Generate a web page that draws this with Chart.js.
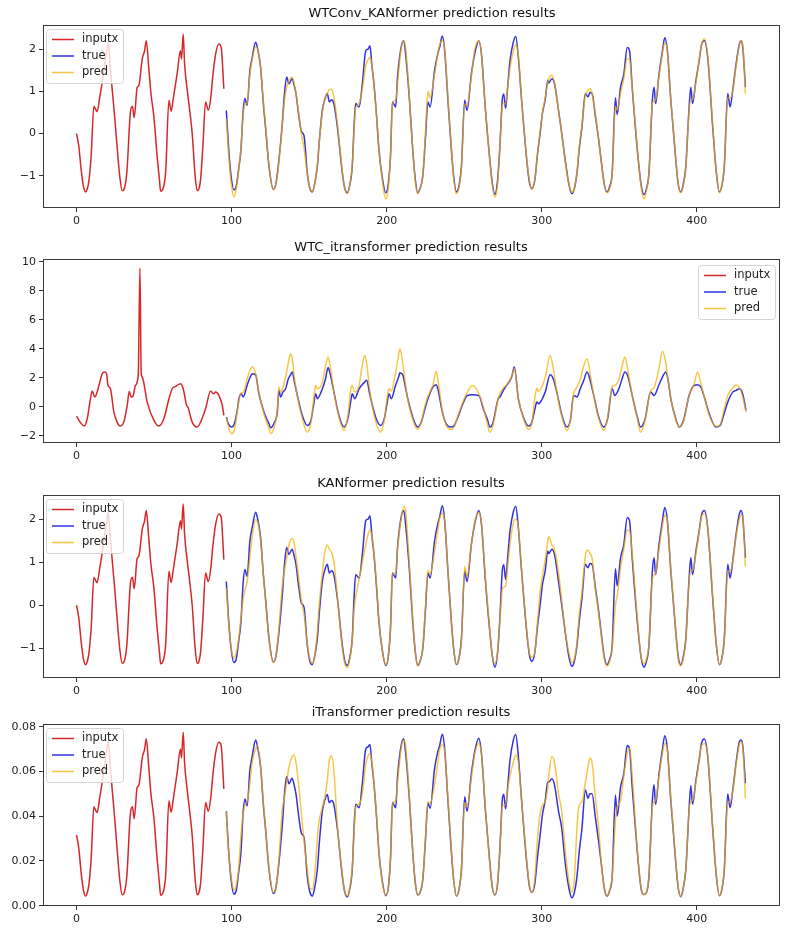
<!DOCTYPE html>
<html>
<head>
<meta charset="utf-8">
<script src="https://cdn.jsdelivr.net/npm/chart.js@4.4.1/dist/chart.umd.min.js"></script>
<style>
  html, body { margin: 0; background: #fff; }
  #wrap { position: relative; width: 800px; height: 935px; }
  canvas { position: absolute; left: 0; }
</style>
</head>
<body>
<div id="wrap">
  <canvas id="c1" width="800" height="230" style="top:0"></canvas>
  <canvas id="c2" width="800" height="231" style="top:234px"></canvas>
  <canvas id="c3" width="800" height="230" style="top:470px"></canvas>
  <canvas id="c4" width="800" height="229" style="top:699px"></canvas>
</div>
<script>
// input window shared by panels 1, 3, 4
const inX = [0, 1.5, 3, 4.5, 5.8, 7, 8, 9.5, 11.2, 12,
  13.3, 15, 16.6, 18, 19.5, 20.5, 21.5, 23, 24.5, 26.7,
  28, 29.5, 31, 32.5, 34.8, 36.1, 37.2, 39.1, 40.2, 42.4,
  43.9, 45, 46.5, 48, 49.9, 52, 53.5, 54.2, 56, 57.5,
  59.6, 61, 62.5, 65, 67, 67.7, 68.8, 69.7, 71.5, 73,
  74.6, 76.5, 77.8, 79, 80, 81.5, 83.2, 85, 86.5, 88,
  89.7, 91.8, 93.3, 95];
const inputNorm = [0.0, -0.3, -0.85, -1.25, -1.38, -1.3, -1.12, -0.5, 0.65, 0.6,
  0.52, 0.87, 1.22, 1.6, 1.95, 2.15, 1.7, 1.05, 0.45, -0.54,
  -1.05, -1.35, -1.28, -0.9, 0.52, 0.65, 0.38, 1.09, 1.14, 1.77,
  1.96, 2.2, 1.6, 0.95, 0.4, -0.54, -1.1, -1.36, -1.28, -0.9,
  0.79, 0.53, 0.85, 1.45, 1.96, 1.77, 2.35, 1.65, 1.0, 0.55,
  0.0, -1.0, -1.35, -1.3, -1.09, -0.3, 0.75, 0.55, 0.83, 1.4,
  1.88, 2.12, 2.04, 1.06];
const inputRaw = [0.0317, 0.0255, 0.0147, 0.0069, 0.0043, 0.0059, 0.0094, 0.0216, 0.0442, 0.0432,
  0.0416, 0.0485, 0.0553, 0.0628, 0.0697, 0.0736, 0.0648, 0.052, 0.0402, 0.0208,
  0.0108, 0.0049, 0.0063, 0.0137, 0.0416, 0.0442, 0.0389, 0.0528, 0.0538, 0.0661,
  0.0699, 0.0746, 0.0628, 0.05, 0.0393, 0.0208, 0.0098, 0.0047, 0.0063, 0.0137,
  0.0469, 0.0418, 0.0481, 0.0599, 0.0699, 0.0661, 0.0775, 0.0638, 0.051, 0.0422,
  0.0314, 0.0118, 0.0049, 0.0059, 0.01, 0.0255, 0.0461, 0.0422, 0.0477, 0.0589,
  0.0683, 0.073, 0.0714, 0.0522];

// forecast horizon shared by panels 1, 3, 4
const fcX = [
  96.6, 98, 99.5, 101.5, 103, 104.5, 106, 107.5, 108.6, 110, 111.8, 113.3, 115.5, 116.6, 118.7, 120.5, 122, 124.1, 126.9,
  128.5, 130, 132.7, 134, 135.5, 137, 139, 140.3, 141.5, 143.4, 145, 146.7, 148.8, 150.5, 152,
  153.5, 155.3, 156.5, 158.5, 160, 161.7, 163, 164.5, 166, 168.2, 171.4, 173, 174.6,
  176, 177.8, 179, 180, 182.2, 184.3, 186.5, 188, 189.2, 190.5, 191.8, 193.5, 195, 197, 199.4,
  201, 202.5, 203.7, 205.8, 207, 209.3, 211, 212.3, 214.7, 216.8, 218.5, 220,
  221.5, 223.3, 225, 226.6, 228, 230.9, 233, 234.1, 235.9, 237.4, 239.5, 241.7, 243.3, 244.9,
  246.5, 248.2, 250.3, 251.8, 254.6, 256.8, 259.4, 261.1, 263.7, 266.5, 268.2, 269.8,
  271.5, 273, 274.5, 275.5, 276.7, 278, 279.5, 281.6, 283.2, 284.9, 287, 290.3, 292, 293.5,
  295.5, 297.2, 298.9, 300.5, 302.2, 303.9, 304.5, 306.5, 308.2, 310.8, 312.9, 315.1, 317.5, 319.4,
  321, 322.7, 324.2, 325.9, 328.1, 329.8, 331, 332.4, 334.6, 336.7, 338.5, 340.3, 342.1,
  343.8, 345.4, 347.5, 348.6, 350.8, 352.9, 355.1, 356.6, 358.3, 361.6, 364, 365.9,
  367.5, 369.1, 371.3, 372.4, 373.4, 375.6, 377.8, 379.3, 381, 383.2, 386.4, 388, 389.6,
  391.2, 392.9, 394.8, 396.1, 397.2, 399.4, 401.5, 403, 404.8, 407, 410.2, 412.5, 414.5,
  416, 417.7, 419.9, 421.4, 423.1, 425.3, 427.4, 428.5, 429.6, 431.3];
const trueNorm = [
  0.55, -0.3, -0.95, -1.33, -1.25, -0.85, -0.4, 0.55, 0.83, 0.67, 1.49, 1.8, 2.16, 2.04, 1.57, 0.7, 0.1, -0.77, -1.32,
  -1.2, -0.8, 0.24, 0.9, 1.34, 1.18, 1.3, 1.15, 0.95, 0.4, 0.05, -0.05, -0.93, -1.3, -1.38,
  -1.2, -0.77, -0.2, 0.55, 0.8, 0.95, 0.75, 0.8, 0.7, 0.16, -0.93, -1.3, -1.4,
  -1.25, -0.77, 0.2, 0.71, 0.63, 1.18, 1.96, 2.0, 2.08, 1.6, 1.18, 0.4, -0.38, -1.0, -1.4,
  -1.2, -0.5, 0.75, 0.63, 1.34, 2.04, 2.2, 1.85, 0.79, -0.38, -1.1, -1.4,
  -1.3, -1.0, -0.1, 0.75, 0.63, 1.5, 1.9, 2.04, 2.31, 1.96, 0.79, -0.38, -1.05, -1.38,
  -1.25, -0.77, 0.79, 0.55, 1.41, 1.9, 2.2, 1.88, 0.55, -0.62, -1.2, -1.44,
  -1.1, -0.3, 0.79, 0.94, 0.6, 1.1, 1.72, 2.16, 2.3, 1.8, 0.79, -0.62, -1.15, -1.3,
  -1.1, -0.5, 0.0, 0.5, 0.8, 1.26, 1.2, 1.3, 1.18, 0.55, 0.0, -0.62, -1.2, -1.42,
  -1.3, -0.93, -0.35, 0.16, 0.95, 0.87, 0.97, 0.95, 0.4, -0.15, -0.7, -1.2, -1.38,
  -1.25, -0.93, 0.85, 0.45, 1.1, 1.41, 2.04, 1.96, 1.1, -0.38, -1.2, -1.44,
  -1.3, -0.93, 0.79, 1.1, 0.71, 1.41, 1.96, 2.27, 1.96, 0.79, -0.62, -1.2, -1.38,
  -1.2, -0.77, 0.5, 1.1, 0.71, 1.26, 1.73, 2.1, 2.2, 1.8, 0.16, -0.9, -1.38,
  -1.25, -0.77, 0.95, 0.63, 1.02, 1.65, 2.12, 2.2, 2.04, 1.1];
const predWTConvKAN = [
  0.35, -0.45, -1.1, -1.5, -1.3, -0.9, -0.35, 0.45, 0.7, 0.72, 1.4, 1.75, 2.05, 2.02, 1.55, 0.75, 0.15, -0.75, -1.33,
  -1.2, -0.85, 0.2, 0.75, 1.1, 1.25, 1.34, 1.2, 0.95, 0.45, 0.0, -0.35, -0.95, -1.3, -1.38,
  -1.2, -0.75, -0.2, 0.5, 0.8, 0.95, 1.04, 1.05, 0.85, 0.25, -0.9, -1.3, -1.42,
  -1.25, -0.75, 0.1, 0.6, 0.72, 1.05, 1.6, 1.75, 1.8, 1.6, 1.15, 0.4, -0.38, -1.05, -1.55,
  -1.3, -0.5, 0.7, 0.8, 1.2, 2.0, 2.2, 2.0, 0.8, -0.38, -1.15, -1.42,
  -1.3, -1.0, 0.0, 1.0, 0.85, 1.4, 1.9, 2.1, 2.2, 2.0, 0.85, -0.35, -1.1, -1.42,
  -1.3, -0.8, 0.7, 0.67, 1.35, 2.0, 2.2, 1.88, 0.55, -0.62, -1.25, -1.5,
  -1.2, -0.3, 0.65, 0.72, 0.7, 1.1, 1.55, 1.95, 2.1, 1.85, 0.8, -0.6, -1.1, -1.32,
  -1.1, -0.5, 0.05, 0.5, 0.85, 1.2, 1.3, 1.38, 1.2, 0.55, 0.0, -0.65, -1.2, -1.38,
  -1.3, -0.9, -0.3, 0.2, 0.9, 1.02, 1.06, 0.95, 0.45, -0.15, -0.7, -1.2, -1.4,
  -1.3, -0.95, 0.65, 0.55, 0.95, 1.3, 1.78, 1.75, 1.1, -0.35, -1.25, -1.55,
  -1.35, -0.95, 0.7, 0.78, 0.8, 1.35, 1.9, 2.15, 1.95, 0.8, -0.6, -1.2, -1.4,
  -1.25, -0.8, 0.45, 0.8, 0.8, 1.2, 1.75, 2.1, 2.25, 1.85, 0.2, -0.9, -1.4,
  -1.25, -0.75, 0.85, 0.85, 1.0, 1.6, 2.1, 2.2, 2.1, 0.95];
const predKAN = [
  0.4, -0.35, -0.95, -1.22, -1.1, -0.8, -0.3, 0.15, 0.35, 0.55, 1.1, 1.6, 1.98, 1.95, 1.5, 0.7, 0.1, -0.8, -1.33,
  -1.2, -0.75, 0.45, 0.8, 1.1, 1.4, 1.55, 1.45, 1.15, 0.6, 0.1, -0.2, -0.9, -1.25, -1.35,
  -1.2, -0.6, 0.0, 0.75, 1.2, 1.4, 1.3, 1.22, 1.0, 0.2, -1.0, -1.35, -1.45,
  -1.3, -0.8, -0.1, 0.17, 0.6, 1.0, 1.4, 1.65, 1.75, 1.6, 1.2, 0.45, -0.35, -1.0, -1.38,
  -1.2, -0.5, 0.72, 0.75, 1.3, 2.0, 2.3, 2.15, 0.9, -0.3, -1.1, -1.41,
  -1.3, -1.0, -0.05, 0.82, 0.72, 1.25, 1.75, 2.0, 2.13, 1.95, 0.8, -0.4, -1.05, -1.37,
  -1.25, -0.8, 0.9, 0.67, 1.4, 1.95, 2.15, 1.9, 0.6, -0.6, -1.2, -1.35,
  -1.1, -0.35, 0.35, 0.42, 0.45, 0.9, 1.4, 1.9, 2.0, 1.8, 0.8, -0.6, -1.1, -1.2,
  -1.1, -0.4, 0.3, 0.7, 1.05, 1.5, 1.59, 1.4, 1.3, 0.75, 0.1, -0.6, -1.1, -1.33,
  -1.25, -0.85, -0.2, 0.3, 1.15, 1.28, 1.2, 1.1, 0.35, -0.2, -0.75, -1.25, -1.41,
  -1.3, -1.0, 0.0, 0.21, 0.86, 1.3, 1.75, 1.72, 1.2, -0.3, -1.2, -1.35,
  -1.25, -0.9, 0.6, 0.7, 0.75, 1.3, 1.85, 2.09, 1.95, 0.85, -0.6, -1.25, -1.41,
  -1.25, -0.8, 0.45, 0.82, 0.8, 1.2, 1.7, 2.05, 2.13, 1.8, 0.2, -0.9, -1.37,
  -1.25, -0.8, 0.8, 0.78, 1.0, 1.6, 2.0, 2.1, 2.05, 0.9];
const trueRaw = [
  0.0422, 0.0255, 0.0128, 0.0052, 0.0068, 0.0147, 0.0235, 0.0422, 0.0477, 0.0446, 0.0606, 0.0667, 0.074, 0.0714, 0.0622, 0.045, 0.0334, 0.0163, 0.0055,
  0.0078, 0.0157, 0.0361, 0.049, 0.0577, 0.0545, 0.057, 0.054, 0.05, 0.0393, 0.0324, 0.0304, 0.0131, 0.006, 0.0043,
  0.0078, 0.0163, 0.0275, 0.0422, 0.047, 0.0497, 0.046, 0.047, 0.045, 0.0345, 0.0131, 0.006, 0.004,
  0.0069, 0.0163, 0.0353, 0.0453, 0.0438, 0.0546, 0.07, 0.071, 0.072, 0.063, 0.0546, 0.0393, 0.024, 0.0118, 0.0045,
  0.0078, 0.0216, 0.0461, 0.0438, 0.0577, 0.0714, 0.0746, 0.0677, 0.047, 0.024, 0.0098, 0.0048,
  0.0059, 0.0118, 0.0294, 0.046, 0.0435, 0.0614, 0.069, 0.0714, 0.0766, 0.0699, 0.047, 0.024, 0.0108, 0.0043,
  0.0069, 0.0163, 0.0487, 0.0422, 0.059, 0.069, 0.0748, 0.068, 0.0422, 0.0192, 0.0078, 0.0048,
  0.0098, 0.0255, 0.047, 0.0498, 0.0432, 0.053, 0.065, 0.0738, 0.0765, 0.0667, 0.047, 0.0192, 0.0088, 0.006,
  0.0098, 0.0216, 0.0314, 0.041, 0.047, 0.0554, 0.0553, 0.0567, 0.054, 0.0422, 0.0346, 0.0192, 0.0078, 0.0036,
  0.0059, 0.0131, 0.0245, 0.0345, 0.0517, 0.048, 0.05, 0.05, 0.0393, 0.0285, 0.018, 0.0078, 0.0043,
  0.0069, 0.0131, 0.0495, 0.04, 0.053, 0.059, 0.0716, 0.07, 0.053, 0.024, 0.0078, 0.005,
  0.0059, 0.0131, 0.047, 0.054, 0.0453, 0.059, 0.0699, 0.076, 0.0699, 0.047, 0.0192, 0.0078, 0.004,
  0.0078, 0.0163, 0.041, 0.0536, 0.0453, 0.0561, 0.0653, 0.0726, 0.0745, 0.0667, 0.0345, 0.0137, 0.0045,
  0.0069, 0.0163, 0.05, 0.0438, 0.0514, 0.064, 0.0733, 0.074, 0.0714, 0.0547];
const predITrans = [
  0.042, 0.025, 0.014, 0.007, 0.009, 0.016, 0.031, 0.041, 0.045, 0.0465, 0.055, 0.064, 0.07, 0.0718, 0.062, 0.046, 0.034, 0.017, 0.006,
  0.008, 0.016, 0.043, 0.048, 0.055, 0.062, 0.0665, 0.0673, 0.064, 0.053, 0.041, 0.029, 0.016, 0.008, 0.0075,
  0.013, 0.03, 0.038, 0.044, 0.048, 0.056, 0.065, 0.067, 0.06, 0.036, 0.014, 0.006, 0.0045,
  0.007, 0.017, 0.033, 0.044, 0.0455, 0.05, 0.063, 0.067, 0.068, 0.064, 0.055, 0.04, 0.024, 0.011, 0.0048,
  0.008, 0.022, 0.045, 0.047, 0.055, 0.07, 0.074, 0.071, 0.048, 0.024, 0.01, 0.0048,
  0.006, 0.012, 0.03, 0.0465, 0.0457, 0.054, 0.064, 0.0695, 0.0718, 0.069, 0.048, 0.025, 0.011, 0.0043,
  0.007, 0.016, 0.046, 0.0442, 0.057, 0.068, 0.0725, 0.068, 0.043, 0.019, 0.008, 0.0048,
  0.01, 0.025, 0.044, 0.045, 0.045, 0.052, 0.058, 0.064, 0.0673, 0.064, 0.047, 0.02, 0.009, 0.0058,
  0.012, 0.03, 0.041, 0.045, 0.0465, 0.053, 0.058, 0.0666, 0.064, 0.05, 0.042, 0.025, 0.011, 0.0063,
  0.012, 0.035, 0.045, 0.0465, 0.055, 0.062, 0.066, 0.064, 0.048, 0.0346, 0.018, 0.008, 0.0043,
  0.007, 0.013, 0.038, 0.044, 0.047, 0.058, 0.068, 0.0703, 0.058, 0.025, 0.008, 0.005,
  0.006, 0.013, 0.044, 0.0465, 0.047, 0.058, 0.068, 0.0725, 0.069, 0.048, 0.02, 0.008, 0.004,
  0.008, 0.016, 0.041, 0.0465, 0.047, 0.055, 0.065, 0.0715, 0.0725, 0.067, 0.035, 0.014, 0.0045,
  0.007, 0.017, 0.046, 0.0465, 0.051, 0.063, 0.072, 0.0733, 0.071, 0.048];

// WTC_itransformer panel has its own input and target
const inX2 = [0, 2.6, 5, 6.9, 9, 10.1, 11.8, 13.3, 15, 16.6,
  18.1, 19.4, 20.2, 21.9, 24.1, 26.2, 28, 30.5, 32.7, 34,
  35.3, 36.5, 38, 39.8, 40.9, 41.7, 42.4, 45.6, 49.9, 53.1,
  56.3, 59.6, 61.7, 63.9, 66, 67.1, 68.8, 71, 71.8, 74.6,
  77.8, 80, 83.2, 86.5, 88.2, 89.7, 91.8, 94, 95];
const input2 = [-0.64, -1.1, -1.33, -0.83, 0.55, 1.08, 0.67, 1.01, 1.7, 2.28,
  2.39, 2.28, 1.52, 1.24, -0.37, -1.06, -1.33, -1.06, 0.09, 1.06,
  0.67, 0.75, 1.47, 2.16, 9.56, 2.39, 2.05, 0.32, -0.94, -1.33,
  -0.83, 0.55, 1.24, 1.4, 1.54, 1.59, 1.24, 0.09, -0.02, -1.06,
  -1.4, -1.06, -0.14, 1.08, 0.9, 1.01, 0.78, 0.09, -0.6];
const fcX2 = [96.6, 98, 100, 102, 104, 104.7, 106.2, 107.5, 110, 111.8,
  113.3, 115.5, 117.6, 120.9, 124.1, 125.2, 127.5, 129.5, 130.5, 131.6,
  133, 134.8, 136.5, 138, 139.1, 140.5, 142.4, 145.6, 148.8, 151,
  153, 154.2, 155.3, 158.5, 160.5, 162.2, 163.5, 166, 169.2, 172.5,
  175, 177, 177.8, 179.4, 182.2, 184, 185.8, 187.1, 189, 190.8,
  193.5, 196.1, 198.5, 200.5, 201.5, 203, 205.5, 208, 208.5, 210.4,
  211.8, 213.6, 217.9, 220, 222.5, 224.5, 226.6, 229.8, 231.9, 233,
  235.9, 238.5, 241.3, 243.5, 246, 248.7, 252, 255.2, 259.4, 262.5,
  265, 266.5, 268.5, 271.9, 273, 275.2, 277.3, 280.6, 282.3, 284.9,
  288.1, 291.4, 293.5, 295.5, 296.8, 297.8, 302.2, 305.4, 307.5, 309.7,
  313, 316.2, 318.5, 320.5, 322.7, 324.8, 327, 329.2, 331, 333.5,
  336.7, 340, 342.5, 345.4, 347.1, 349.7, 352, 353.6, 355.5, 358.3,
  361.6, 363.7, 366.5, 370.2, 372.4, 375.5, 377.8, 380, 381.5, 383.2,
  386.4, 388.6, 391.5, 395, 398.3, 400.4, 402.6, 405, 408, 412.3,
  415, 417.5, 419.9, 423.1, 425.3, 427.5, 429.5, 431.7];
const true2 = [-0.71, -1.2, -1.4, -1.1, 0.0, 0.55, 0.9, 0.67, 1.47, 2.0,
  2.28, 2.2, 0.9, -0.37, -1.17, -1.45, -1.1, -0.37, 1.13, 0.67,
  1.0, 1.24, 1.9, 2.2, 2.39, 1.7, 0.78, -0.6, -1.29, -1.0,
  0.2, 0.9, 0.55, 1.24, 1.9, 2.7, 2.3, 1.01, -0.6, -1.4,
  -0.8, 0.5, 0.9, 0.55, 1.24, 1.5, 1.7, 1.82, 0.9, 0.09,
  -0.9, -1.29, -0.8, 0.4, 0.9, 0.55, 1.4, 2.16, 2.35, 2.2,
  1.5, 0.55, -1.06, -1.4, -1.0, -0.2, 0.55, 1.36, 1.52, 1.24,
  -0.37, -1.2, -1.4, -1.29, -0.7, 0.09, 0.78, 0.83, 0.78, -0.2,
  -0.9, -1.4, -1.1, 0.55, 0.67, 1.13, 1.47, 2.05, 2.74, 0.55,
  -0.71, -1.33, -1.1, -0.2, 0.32, 0.21, 1.01, 2.2, 1.9, 1.01,
  -0.6, -1.4, -0.9, 0.78, 0.67, 1.24, 1.8, 2.39, 1.9, 0.78,
  -0.71, -1.4, -0.8, 1.24, 0.78, 1.24, 2.0, 2.39, 2.1, 0.78,
  -0.71, -1.4, -0.9, 1.01, 0.78, 1.5, 2.05, 2.39, 1.8, 0.55,
  -0.83, -1.4, -0.9, 0.78, 1.47, 1.52, 1.36, 0.6, -0.48, -1.4,
  -1.3, -0.5, 0.32, 1.01, 1.13, 1.24, 0.9, -0.25];
const pred2 = [-0.75, -1.4, -1.86, -1.5, -0.1, 0.4, 0.95, 1.0, 1.9, 2.5,
  2.74, 2.3, 1.0, -0.5, -1.5, -1.86, -1.4, -0.2, 1.36, 1.0,
  1.3, 2.05, 3.0, 3.65, 3.3, 2.0, 0.7, -0.8, -1.75, -1.2,
  0.6, 1.47, 1.24, 1.7, 2.8, 3.43, 2.9, 1.0, -0.7, -1.63,
  -0.6, 1.3, 1.47, 1.01, 1.47, 2.7, 3.54, 3.0, 1.2, 0.0,
  -1.2, -1.75, -0.9, 0.8, 1.24, 1.1, 2.2, 3.77, 4.0, 3.0,
  1.8, 0.5, -1.2, -1.56, -1.0, 0.0, 0.7, 1.5, 2.44, 1.9,
  -0.3, -1.3, -1.56, -1.4, -0.6, 0.2, 1.0, 1.47, 0.9, -0.1,
  -1.2, -1.75, -1.3, 0.55, 0.9, 1.3, 1.5, 2.1, 2.62, 0.6,
  -0.8, -1.56, -1.2, 0.6, 1.29, 1.06, 2.0, 3.54, 2.6, 1.01,
  -0.7, -1.63, -0.9, 0.9, 1.36, 1.9, 2.8, 3.31, 2.4, 0.8,
  -0.8, -1.63, -0.7, 1.4, 1.47, 1.9, 2.9, 3.43, 2.5, 0.8,
  -0.8, -1.75, -1.0, 1.1, 1.3, 2.6, 3.82, 3.0, 1.8, 0.6,
  -0.9, -1.4, -1.0, 0.8, 1.6, 2.39, 1.6, 0.6, -0.6, -1.35,
  -1.25, -0.2, 0.78, 1.3, 1.52, 1.3, 0.7, -0.37];

const RED = 'rgba(210, 15, 20, 0.9)';
const BLUE = 'rgba(20, 20, 220, 0.88)';
const GOLD = 'rgba(242, 176, 0, 0.72)';

Chart.defaults.font.family = '"DejaVu Sans", sans-serif';
Chart.defaults.font.size = 11;
Chart.defaults.color = '#222';

const pts = (xs, ys) => xs.map((x, i) => ({ x, y: ys[i] }));
const minusFmt = v => (v < 0 ? '\u2212' + Math.abs(v) : String(v));

// frame, title and matplotlib-like legend
const decor = {
  id: 'decor',
  afterDatasetsDraw(chart, args, opts) {
    const { ctx, chartArea: a } = chart;
    ctx.save();
    ctx.strokeStyle = '#3a3a3a';
    ctx.lineWidth = 1;
    ctx.strokeRect(a.left + 0.5, a.top + 0.5, a.width - 1, a.height - 1);

    const w = 77, h = 54;
    const bx = opts.legendRight ? a.right - w - 5 : a.left + 3;
    const by = a.top + (opts.legendRight ? 6 : 4);
    ctx.beginPath();
    ctx.roundRect(bx + 0.5, by + 0.5, w, h, 3);
    ctx.fillStyle = 'rgba(255,255,255,0.8)';
    ctx.fill();
    ctx.strokeStyle = '#d4d4d4';
    ctx.stroke();
    ctx.font = '11.5px "DejaVu Sans"';
    ctx.textBaseline = 'middle';
    ctx.textAlign = 'left';
    chart.data.datasets.forEach((ds, i) => {
      const y = by + 10.5 + i * 16.5;
      ctx.beginPath();
      ctx.moveTo(bx + 6, y);
      ctx.lineTo(bx + 28, y);
      ctx.strokeStyle = ds.borderColor;
      ctx.lineWidth = 1.5;
      ctx.stroke();
      ctx.fillStyle = '#222';
      ctx.fillText(ds.label, bx + 36, y);
    });

    ctx.font = '13px "DejaVu Sans"';
    ctx.textAlign = 'center';
    ctx.fillStyle = '#111';
    ctx.fillText(opts.title, opts.titleX, 14);
    ctx.restore();
  }
};

function panel(id, o) {
  const tickGrid = { drawOnChartArea: false, drawTicks: true, tickLength: 4, color: '#333' };
  return new Chart(document.getElementById(id), {
    type: 'line',
    data: {
      datasets: [
        { label: 'inputx', data: pts(o.inX, o.inY), borderColor: RED, order: 2 },
        { label: 'true', data: pts(o.fcX, o.trueY), borderColor: BLUE, order: 1 },
        { label: 'pred', data: pts(o.fcX, o.predY), borderColor: GOLD, order: 0 }
      ]
    },
    options: {
      responsive: false,
      animation: false,
      events: [],
      layout: { padding: { top: 25, right: 20, left: 0, bottom: 0 } },
      elements: {
        point: { radius: 0 },
        line: { borderWidth: 1.5, cubicInterpolationMode: 'monotone', fill: false }
      },
      plugins: {
        legend: { display: false },
        tooltip: { enabled: false },
        decor: { title: o.title, titleX: o.titleX, legendRight: o.legendRight }
      },
      scales: {
        x: {
          type: 'linear', min: -21.6, max: 453.6,
          afterFit: s => { s.height = 22; },
          ticks: { stepSize: 100, includeBounds: false, maxRotation: 0, padding: 3 },
          grid: tickGrid,
          border: { display: false }
        },
        y: {
          type: 'linear', min: o.yMin, max: o.yMax,
          afterFit: s => { s.width = 43; },
          ticks: { stepSize: o.yStep, includeBounds: false, padding: 3, callback: o.yFmt || minusFmt },
          grid: tickGrid,
          border: { display: false }
        }
      }
    },
    plugins: [decor]
  });
}

panel('c1', {
  title: 'WTConv_KANformer prediction results', titleX: 432, legendRight: false,
  inX, inY: inputNorm, fcX, trueY: trueNorm, predY: predWTConvKAN,
  yMin: -1.76, yMax: 2.57, yStep: 1
});
panel('c2', {
  title: 'WTC_itransformer prediction results', titleX: 411, legendRight: true,
  inX: inX2, inY: input2, fcX: fcX2, trueY: true2, predY: pred2,
  yMin: -2.5, yMax: 10.19, yStep: 2
});
panel('c3', {
  title: 'KANformer prediction results', titleX: 411, legendRight: false,
  inX, inY: inputNorm, fcX, trueY: trueNorm, predY: predKAN,
  yMin: -1.69, yMax: 2.56, yStep: 1
});
panel('c4', {
  title: 'iTransformer prediction results', titleX: 411, legendRight: false,
  inX, inY: inputRaw, fcX, trueY: trueRaw, predY: predITrans,
  yMin: -0.00013, yMax: 0.0812, yStep: 0.02, yFmt: v => v.toFixed(2)
});
</script>
</body>
</html>
